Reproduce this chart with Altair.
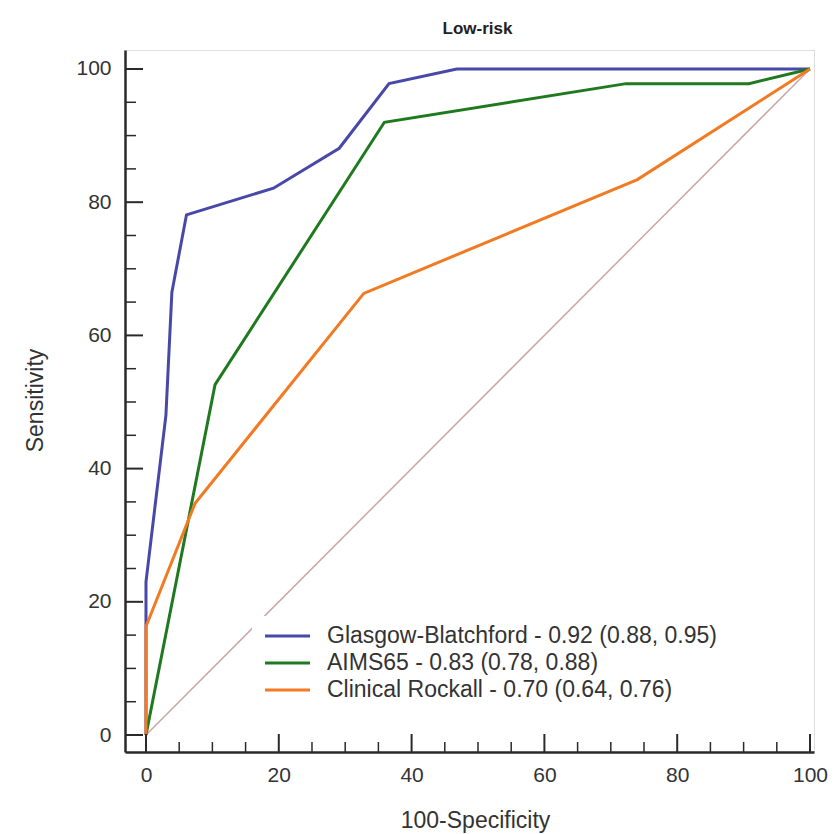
import altair as alt
import pandas as pd

# ---- data ----
series_names = [
    "Glasgow-Blatchford - 0.92 (0.88, 0.95)",
    "AIMS65 - 0.83 (0.78, 0.88)",
    "Clinical Rockall - 0.70 (0.64, 0.76)",
]
series_colors = ["#4848a8", "#1f7a1f", "#f27a22"]

gb_x = [0, 0, 3.0, 3.9, 6.1, 19.2, 29.1, 36.6, 46.8, 100]
gb_y = [0, 23, 48, 66.5, 78.1, 82.1, 88.1, 97.8, 100, 100]

aims_x = [0, 10.4, 35.9, 72.3, 90.8, 100]
aims_y = [0, 52.6, 92.0, 97.8, 97.8, 100]

cr_x = [0, 0, 7.4, 32.8, 74.0, 100]
cr_y = [0, 16.3, 34.8, 66.3, 83.4, 100]

diag_x = [0, 100]
diag_y = [0, 100]

major_ticks = [0, 20, 40, 60, 80, 100]
minor_ticks = [5, 10, 15, 25, 30, 35, 45, 50, 55, 65, 70, 75, 85, 90, 95]

# ---- tables ----
rows = []
for name, xs, ys in zip(series_names, [gb_x, aims_x, cr_x], [gb_y, aims_y, cr_y]):
    for i, (xv, yv) in enumerate(zip(xs, ys)):
        rows.append({"series": name, "i": i, "x": xv, "y": yv})
curves = pd.DataFrame(rows)
diag = pd.DataFrame({"x": diag_x, "y": diag_y, "i": [0, 1]})
major = pd.DataFrame({"v": major_ticks})
minor = pd.DataFrame({"v": minor_ticks})
legend_df = pd.DataFrame({"series": series_names})

W, H = 689, 702
FONT = "Liberation Sans"
AXIS_COLOR = "#2a2a2a"
TEXT_COLOR = "#333333"

xscale = alt.Scale(domain=[-3.16, 100.6], nice=False, zero=False)
yscale = alt.Scale(domain=[-2.55, 102.85], nice=False, zero=False)
color_scale = alt.Scale(domain=series_names, range=series_colors)

x_axis = alt.Axis(
    values=major_ticks, ticks=False, tickSize=0, grid=False,
    labelFontSize=21, labelColor=TEXT_COLOR, labelFont=FONT, labelPadding=12,
    domainColor=AXIS_COLOR, domainWidth=2.5,
    title="100-Specificity", titleFontSize=23, titleFont=FONT, titleFontWeight="normal",
    titleColor=TEXT_COLOR, titleX=350, titleY=68, titleBaseline="middle", titleAnchor="middle",
)
y_axis = alt.Axis(
    values=major_ticks, ticks=False, tickSize=0, grid=False,
    labelFontSize=21, labelColor=TEXT_COLOR, labelFont=FONT, labelPadding=14,
    domainColor=AXIS_COLOR, domainWidth=2.5,
    title="Sensitivity", titleFontSize=23, titleFont=FONT, titleFontWeight="normal",
    titleColor=TEXT_COLOR, titleX=-90, titleY=350, titleBaseline="middle", titleAnchor="middle",
    titleAngle=270,
)

diag_layer = alt.Chart(diag).mark_line(strokeWidth=1.5, color="#c9a7a7").encode(
    x=alt.X("x:Q", scale=xscale, axis=x_axis),
    y=alt.Y("y:Q", scale=yscale, axis=y_axis),
    order="i:Q",
)

curve_layer = alt.Chart(curves).mark_line(strokeWidth=3).encode(
    x=alt.X("x:Q", scale=xscale),
    y=alt.Y("y:Q", scale=yscale, axis=None),
    order="i:Q",
    color=alt.Color("series:N", scale=color_scale, legend=None),
)

ytick_major = alt.Chart(major).mark_rule(color=AXIS_COLOR, strokeWidth=2).encode(
    y=alt.Y("v:Q", scale=yscale, axis=None), x=alt.value(0), x2=alt.value(18)
)
ytick_minor = alt.Chart(minor).mark_rule(color=AXIS_COLOR, strokeWidth=1.5).encode(
    y=alt.Y("v:Q", scale=yscale, axis=None), x=alt.value(0), x2=alt.value(11)
)
xtick_major = alt.Chart(major).mark_rule(color=AXIS_COLOR, strokeWidth=2).encode(
    x=alt.X("v:Q", scale=xscale), y=alt.value(H), y2=alt.value(H - 18)
)
xtick_minor = alt.Chart(minor).mark_rule(color=AXIS_COLOR, strokeWidth=1.5).encode(
    x=alt.X("v:Q", scale=xscale), y=alt.value(H), y2=alt.value(H - 10)
)

# ---- legend drawn inside the plot (white box, line swatches, labels) ----
leg_y = alt.Y("series:N", scale=alt.Scale(type="point", domain=series_names,
                                          range=[586, 640], padding=0), axis=None)

legend_box = alt.Chart(legend_df).mark_rect(color="white").encode(
    x=alt.value(127), x2=alt.value(660), y=alt.value(566), y2=alt.value(655)
)
legend_lines = alt.Chart(legend_df).mark_rule(strokeWidth=3).encode(
    x=alt.value(140), x2=alt.value(185), y=leg_y,
    color=alt.Color("series:N", scale=color_scale, legend=None),
)
legend_text = alt.Chart(legend_df).mark_text(
    align="left", baseline="middle", fontSize=23, font=FONT, color=TEXT_COLOR
).encode(x=alt.value(202), y=leg_y, text="series:N")

chart = alt.layer(
    diag_layer, curve_layer, ytick_major, ytick_minor, xtick_major, xtick_minor,
    legend_box, legend_lines, legend_text,
).resolve_scale(y="independent").properties(
    width=W, height=H,
    title=alt.TitleParams(
        "Low-risk", fontSize=17, fontWeight="bold", font=FONT, color="#222222",
        anchor="middle", dx=8, offset=12,
    ),
    autosize=alt.AutoSizeParams(type="none"),
    padding={"left": 125, "top": 50, "right": 21, "bottom": 82},
).configure_view(stroke=None).configure(background="white")

chart.save("out.html", embed_options={"renderer": "svg", "actions": False})
